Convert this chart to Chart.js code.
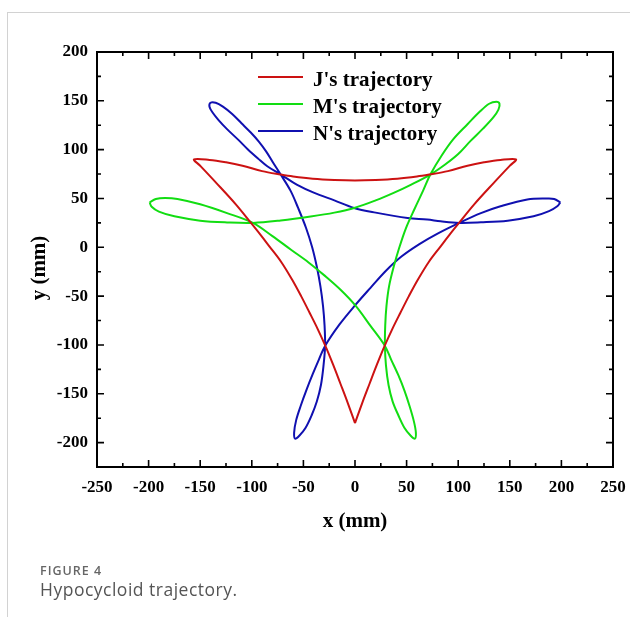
<!DOCTYPE html>
<html>
<head>
<meta charset="utf-8">
<script src="https://cdn.jsdelivr.net/npm/chart.js@4.4.1/dist/chart.umd.min.js"></script>
<style>
  html, body { margin: 0; padding: 0; background: #fff; }
  #wrap { position: relative; width: 638px; height: 617px; overflow: hidden; }
  #chart { position: absolute; left: 0; top: 0; }
  .rule-top { position: absolute; left: 8px; top: 12px; width: 622px; height: 1px; background: #d2d2d2; }
  .rule-left { position: absolute; left: 7px; top: 12px; width: 1px; height: 605px; background: #d2d2d2; }
  .fig { position: absolute; left: 40px; top: 562px; font: 600 12.5px "Open Sans"; letter-spacing: 1px; color: #666; }
  .cap { position: absolute; left: 40px; top: 577px; font: 17.5px "Open Sans"; letter-spacing: 0.5px; color: #555; }
</style>
</head>
<body>
<div id="wrap">
  <canvas id="chart" width="638" height="617"></canvas>
  <div class="rule-top"></div>
  <div class="rule-left"></div>
  <div class="fig">FIGURE 4</div>
  <div class="cap">Hypocycloid trajectory.</div>
</div>
<script>
// J's trajectory (red), starting at the bottom cusp
const jX = [0, 6.8, 14, 21.3, 28.7, 36, 44, 52.2, 61, 71.5, 83, 91.7, 100.8, 115.5, 134.5, 150.5, 156,
  141, 125, 109, 90, 72, 60, 41, 20, 0, -20, -41, -60, -72, -90, -109, -125, -141, -156,
  -150.5, -134.5, -115.5, -100.8, -91.7, -83, -71.5, -61, -52.2, -44, -36, -28.7, -21.3, -14, -6.8, 0];
const jY = [-180, -160, -140, -120, -101, -84, -67, -50, -33, -15, 1, 13, 25, 44, 66, 84, 90,
  89.5, 87, 83.5, 78, 74.5, 72.5, 70.3, 69, 68.5, 69, 70.3, 72.5, 74.5, 78, 83.5, 87, 89.5, 90,
  84, 66, 44, 25, 13, 1, -15, -33, -50, -67, -84, -101, -120, -140, -160, -180];

// M's trajectory (green), starting at the left loop tip
const mX = [-199, -193, -184, -172, -150, -124, -99, -80, -62, -45, -30, -14, 0.7, 15, 29,
  35, 42, 48, 53, 57, 59, 58, 54, 48, 42, 36.5, 32.5, 30, 29,
  29.3, 30.5, 33, 37.5, 43, 49.5, 58, 66, 73,
  84, 95.5, 109, 121, 130, 137, 140, 139, 134, 124, 112, 100, 87, 73,
  54, 38, 20, 0, -20, -43, -72, -99, -124, -150, -175, -190, -197, -199];
const mY = [46, 49.5, 50.5, 49.5, 44, 35, 25, 11.5, -2.5, -15.5, -28.5, -43.5, -60, -80.5, -101,
  -115, -131, -147, -163, -178, -190, -196, -193, -185, -172, -158, -141, -121, -101,
  -80, -60, -40, -20, 0, 20, 40, 58, 74.5,
  94, 111, 126, 139, 147, 149, 147, 141, 133, 121.5, 109, 95.5, 84.5, 74.5,
  64, 56, 48, 40.5, 35.5, 31.5, 27.5, 25, 25.5, 27.3, 31.7, 36.5, 41.5, 46];

// N's trajectory (blue), starting at the right loop tip
const nX = [199, 193, 186, 167, 141, 122, 101, 80, 62, 45, 30, 15, 0, -15, -29,
  -35, -41, -47, -52.5, -57, -59, -58, -54, -48, -42, -37, -33, -30.5, -29,
  -29.5, -31, -33.5, -37, -41.5, -47.5, -55, -62.5, -72,
  -79, -86, -93, -101, -110, -119, -128, -135, -140, -141, -138, -132, -124, -113, -104, -94, -85, -72,
  -56, -40, -20, -1, 20, 51, 70, 83, 101, 122, 148, 173, 188, 196, 199];
const nY = [46, 49.5, 50, 49, 42, 35, 25, 14, 3, -9.5, -24, -41.5, -59.5, -79, -101,
  -115, -130, -146, -162, -177, -190, -196, -193, -185, -172, -158, -141, -121, -101,
  -80, -60, -40, -20, 0, 20, 40, 58, 74.5,
  86, 98, 108, 117.5, 127, 136.5, 144, 148, 148, 144, 138, 130, 121, 110, 100.5, 91, 83, 74.5,
  64, 56, 48, 40.3, 35.5, 30, 28.4, 26.6, 25, 25.6, 27.3, 31.7, 37, 42, 46];

const seriesNames = ["J's trajectory", "M's trajectory", "N's trajectory"];
const seriesColors = ['#cc1212', '#12dd12', '#1010b0'];

const xTickValues = [-250, -200, -150, -100, -50, 0, 50, 100, 150, 200, 250];
const yTickValues = [-200, -150, -100, -50, 0, 50, 100, 150, 200];

const serif = "'Liberation Serif', 'Times New Roman', serif";

function toPoints(xs, ys) {
  return xs.map((x, i) => ({ x: x, y: ys[i] }));
}

const frameTicks = {
  id: 'frameTicks',
  afterDraw(chart) {
    const ctx = chart.ctx;
    const a = chart.chartArea;
    const xs = chart.scales.x;
    const ys = chart.scales.y;
    ctx.save();
    ctx.strokeStyle = '#000';
    ctx.lineWidth = 2;
    ctx.strokeRect(a.left, a.top, a.right - a.left, a.bottom - a.top);
    ctx.lineWidth = 1.6;
    ctx.beginPath();
    for (let v = -225; v < 250; v += 25) {
      const len = v % 50 === 0 ? 7 : 4;
      const px = xs.getPixelForValue(v);
      ctx.moveTo(px, a.bottom); ctx.lineTo(px, a.bottom - len);
      ctx.moveTo(px, a.top); ctx.lineTo(px, a.top + len);
    }
    for (let v = -200; v < 200; v += 25) {
      const len = v % 50 === 0 ? 7 : 4;
      const py = ys.getPixelForValue(v);
      ctx.moveTo(a.left, py); ctx.lineTo(a.left + len, py);
      ctx.moveTo(a.right, py); ctx.lineTo(a.right - len, py);
    }
    ctx.stroke();

    // y title
    ctx.fillStyle = '#000';
    ctx.font = 'bold 21px ' + serif;
    ctx.textAlign = 'center';
    ctx.textBaseline = 'middle';
    ctx.translate(40, 268);
    ctx.rotate(-Math.PI / 2);
    ctx.fillText('y (mm)', 0, 0);
    ctx.restore();

    // legend
    ctx.save();
    ctx.font = 'bold 21px ' + serif;
    ctx.textBaseline = 'alphabetic';
    ctx.fillStyle = '#000';
    chart.data.datasets.forEach((ds, i) => {
      const ly = 77 + i * 27;
      ctx.strokeStyle = ds.borderColor;
      ctx.lineWidth = 2.2;
      ctx.beginPath();
      ctx.moveTo(258, ly); ctx.lineTo(303, ly);
      ctx.stroke();
      ctx.fillText(ds.label, 313, ly + 9);
    });
    ctx.restore();
  }
};

new Chart(document.getElementById('chart'), {
  type: 'scatter',
  data: {
    datasets: [
      { label: seriesNames[0], data: toPoints(jX, jY), borderColor: seriesColors[0] },
      { label: seriesNames[1], data: toPoints(mX, mY), borderColor: seriesColors[1] },
      { label: seriesNames[2], data: toPoints(nX, nY), borderColor: seriesColors[2] }
    ].map(d => Object.assign(d, { showLine: true, pointRadius: 0, borderWidth: 2, tension: 0.35, fill: false }))
  },
  options: {
    responsive: false,
    animation: false,
    layout: { padding: { left: 0, right: 25, top: 52, bottom: 80 } },
    plugins: { legend: { display: false }, tooltip: { enabled: false } },
    scales: {
      x: {
        type: 'linear', min: -250, max: 250,
        afterBuildTicks: (s) => { s.ticks = xTickValues.map(v => ({ value: v })); },
        afterFit: (s) => { s.height = 70; },
        grid: { display: false, drawTicks: false },
        border: { display: false },
        ticks: { color: '#000', padding: 10, font: { family: serif, size: 17, weight: 'bold' } },
        title: { display: true, text: 'x (mm)', color: '#000', padding: { top: 0, bottom: 3 }, font: { family: serif, size: 21, weight: 'bold' } }
      },
      y: {
        type: 'linear', min: -225, max: 200,
        afterBuildTicks: (s) => { s.ticks = yTickValues.map(v => ({ value: v })); },
        afterFit: (s) => { s.width = 97; },
        grid: { display: false, drawTicks: false },
        border: { display: false },
        ticks: { color: '#000', padding: 9, font: { family: serif, size: 17, weight: 'bold' } },
        title: { display: false }
      }
    }
  },
  plugins: [frameTicks]
});
</script>
</body>
</html>
